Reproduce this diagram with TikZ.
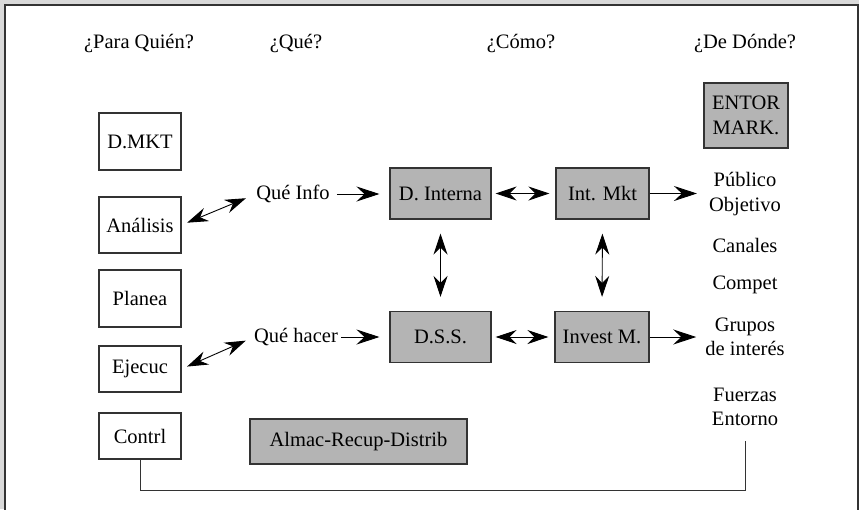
\documentclass[tikz,border=0pt]{standalone}
\usepackage{fontspec}
\setmainfont{Liberation Serif}
\usetikzlibrary{arrows.meta}
\definecolor{bgray}{HTML}{D9D9D9}
\definecolor{fgray}{HTML}{B4B4B4}
\definecolor{lgray}{HTML}{333333}
\tikzset{
  box/.style={draw=lgray, line width=1.1pt, inner sep=0pt, align=center},
  wbox/.style={box, fill=white},
  gbox/.style={box, fill=fgray},
  txt/.style={inner sep=0pt, align=center},
  arr/.style={line width=0.9pt, -{Stealth[length=23pt, width=15pt, inset=8pt]}},
  dbl/.style={line width=0.9pt, {Stealth[length=21pt, width=14pt, inset=7pt]}-{Stealth[length=21pt, width=14pt, inset=7pt]}},
}
\begin{document}
\begin{tikzpicture}[x=1pt, y=-1pt, font=\fontsize{20.5}{24.5}\selectfont]
\useasboundingbox (0,0) rectangle (859,509);
\fill[bgray] (0,0) rectangle (859,509);
\fill[white] (5,5) rectangle (858,512);
\draw[lgray, line width=1.6pt] (5,512) -- (5,5) -- (858,5) -- (858,512);

% headers
\node[txt] (h1) at (139,43) {¿Para Quién?};
\node[txt] (h2) at (296,43) {¿Qué?};
\node[txt] (h3) at (521,43) {¿Cómo?};
\node[txt] (h4) at (745,43) {¿De Dónde?};

% left boxes
\node[wbox, minimum width=82pt, minimum height=57pt] (dmkt) at (140,141.5) {D.MKT};
\node[wbox, minimum width=82pt, minimum height=56pt] (anal) at (140,225) {Análisis};
\node[wbox, minimum width=82pt, minimum height=57pt] (plan) at (140,298.5) {Planea};
\node[wbox, minimum width=82pt, minimum height=46pt] (ejec) at (140,369) {Ejecuc};
\node[wbox, minimum width=82pt, minimum height=46pt] (contrl) at (140,436) {Contrl};

% middle text
\node[txt] (qinfo) at (293,194) {Qué Info};
\node[txt] (qhacer) at (296,337) {Qué hacer};

% gray boxes
\node[gbox, minimum width=101pt, minimum height=51pt] (dint) at (440.5,193.5) {D. Interna};
\node[gbox, minimum width=93pt, minimum height=51pt] (imkt) at (602.5,193.5) {Int. Mkt};
\node[gbox, minimum width=101pt, minimum height=51pt] (dss) at (440.5,337) {D.S.S.};
\node[gbox, minimum width=94pt, minimum height=51pt] (inv) at (602,337) {Invest M.};
\node[gbox, minimum width=217pt, minimum height=45pt] (almac) at (358.5,441.5) {Almac-Recup-Distrib};
\node[gbox, minimum width=84pt, minimum height=65pt] (entor) at (746,115.5) {ENTOR\\MARK.};

% right column
\node[txt] (pub) at (745,194) {Público\\Objetivo};
\node[txt] (can) at (745,245) {Canales};
\node[txt] (comp) at (745,285) {Compet};
\node[txt] (grup) at (745,337) {Grupos\\de interés};
\node[txt] (fuer) at (745,407) {Fuerzas\\Entorno};
\coordinate (fend) at (745,441);

% connectors
\draw[dbl, shorten <=6pt, shorten >=11pt] (anal.east) -- (qinfo.west);
\draw[dbl, shorten <=6pt, shorten >=9pt] (ejec.east) -- (qhacer.west);
\draw[arr, shorten <=7pt, shorten >=10pt] (qinfo.east) -- (dint.west |- qinfo.east);
\draw[arr, shorten <=3pt, shorten >=10pt] (qhacer.east) -- (dss.west |- qhacer.east);
\draw[dbl, shorten <=4pt, shorten >=6pt] (dint.east) -- (imkt.west);
\draw[dbl, shorten <=4pt, shorten >=6pt] (dss.east) -- (inv.west);
\draw[arr] (imkt.east) -- ([xshift=-12pt]pub.west |- imkt.east);
\draw[arr] (inv.east) -- ([xshift=-9pt]grup.west |- inv.east);
\draw[dbl, shorten <=14pt, shorten >=14pt] (dint.south) -- (dss.north);
\draw[dbl, shorten <=14pt, shorten >=14pt] (imkt.south) -- (inv.north);
\draw[lgray, line width=1pt] (contrl.south) -- (contrl.south |- 0,490) -- (fend |- 0,490) -- (fend);
\end{tikzpicture}
\end{document}
